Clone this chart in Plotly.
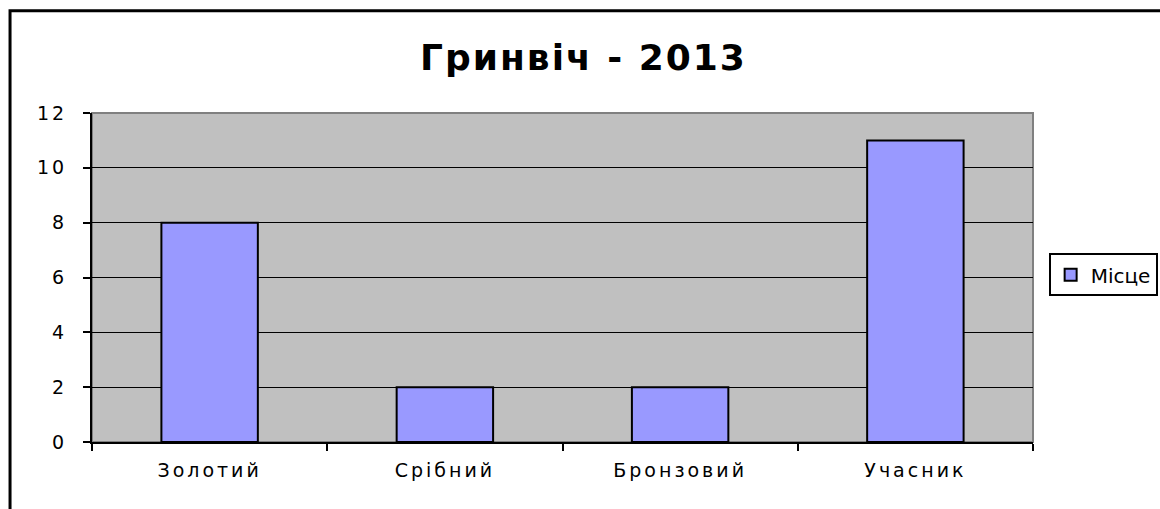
import plotly.graph_objects as go

categories = ["Золотий", "Срібний", "Бронзовий", "Учасник"]
values = [8, 2, 2, 11]
series_name = "Місце"
title_text = "Гринвіч - 2013"

FONT = "DejaVu Sans, Liberation Sans, Arial, sans-serif"

fig = go.Figure()
fig.add_trace(go.Bar(
    x=categories, y=values, name=series_name,
    marker=dict(color="#9999FF", line=dict(color="black", width=2)),
    showlegend=True,
))

fig.update_layout(
    width=1160, height=509,
    margin=dict(l=92, r=127, t=113, b=67, autoexpand=False),
    paper_bgcolor="white",
    plot_bgcolor="#C0C0C0",
    bargap=0.59,
    font=dict(family=FONT, size=19, color="black"),
    title=dict(text="<b>" + title_text + "</b>", x=0.503, xanchor="center",
               y=0.888, yanchor="middle", font=dict(size=36, family=FONT, color="black")),
    legend=dict(xref="container", yref="container", x=0.904, y=0.46,
                xanchor="left", yanchor="middle",
                bordercolor="black", borderwidth=2, bgcolor="white",
                font=dict(size=20)),
    showlegend=True,
)

fig.update_yaxes(range=[0, 12], dtick=2, showgrid=True, gridcolor="black", gridwidth=1,
                 showline=True, linecolor="black", linewidth=2,
                 ticks="outside", ticklen=7, tickcolor="black", tickwidth=2,
                 ticklabelstandoff=12, zeroline=False, fixedrange=True)
fig.update_xaxes(showline=True, linecolor="black", linewidth=2,
                 ticks="outside", ticklen=7, tickcolor="black", tickwidth=2,
                 tickson="boundaries", showgrid=False, ticklabelstandoff=10)

# gray plot area frame (top and right edges)
fig.add_shape(type="rect", xref="paper", yref="paper", x0=0, x1=1, y0=0, y1=1,
              line=dict(color="#808080", width=2), layer="between")
# outer chart border
fig.add_shape(type="rect", xref="paper", yref="paper", x0=-0.0871, x1=1.3,
              y0=-0.3, y1=1.311, line=dict(color="black", width=3))

# no page margin, and a bit wider letter spacing like the original rendering
js = """
document.body.style.margin = '0';
document.body.style.overflow = 'hidden';
var gd = document.getElementById('{plot_id}');
function spacing() {
    gd.querySelectorAll('.xtick text, .ytick text').forEach(function (t) {
        t.style.letterSpacing = '3px';
    });
    gd.querySelectorAll('.gtitle').forEach(function (t) {
        t.style.letterSpacing = '2px';
    });
}
spacing();
gd.on('plotly_afterplot', spacing);
setTimeout(spacing, 50);
"""

fig.write_html("out.html", post_script=js, config={"displayModeBar": False})
